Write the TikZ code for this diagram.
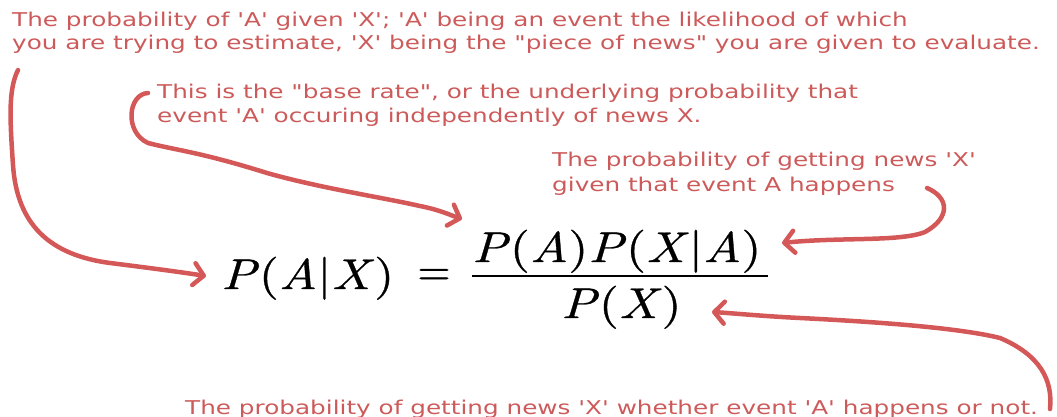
\documentclass[tikz,border=0pt]{standalone}
\usepackage{fontspec}
\usepackage{graphicx}
\setsansfont{DejaVu Sans}
\newfontfamily\fmath{lmroman10-regular.otf}[ItalicFont=lmroman10-italic.otf, FakeBold=0.6]
\usetikzlibrary{arrows.meta}
\definecolor{annot}{RGB}{205,90,90}
\definecolor{arrowred}{RGB}{212,88,88}
\newcommand\aps{\textquotesingle}
\newcommand\dqu{\textquotedbl}
\newcommand\wide[1]{\scalebox{1.3}[1]{#1}}
\newcommand\mwide[1]{\scalebox{1.2}[1]{#1}}
\newcommand\vr[1]{\textit{#1}}
\begin{document}
\begin{tikzpicture}[x=1pt,y=-1pt,
  note/.style={anchor=base west, inner sep=0pt, text=annot, font=\sffamily\fontsize{19}{23}\selectfont},
  mathpart/.style={anchor=base west, inner sep=0pt, font=\fmath\fontsize{43}{50}\selectfont},
  pointer/.style={draw=arrowred, line width=4.5pt, line cap=round, line join=round, -{Straight Barb[length=10pt,width=22pt,round]}}
]
\useasboundingbox (0,0) rectangle (1057,417);
% annotations
\node[note] (n1a) at (12,27) {\wide{The probability of \aps A\aps{} given \aps X\aps; \aps A\aps{} being an event the likelihood of which}};
\node[note] (n1b) at (12,50) {\wide{you are trying to estimate, \aps X\aps{} being the \dqu piece of news\dqu{} you are given to evaluate.}};
\node[note] (n2a) at (157,99) {\wide{This is the \dqu base rate\dqu, or the underlying probability that}};
\node[note] (n2b) at (157,123) {\wide{event \aps A\aps{} occuring independently of news X.}};
\node[note] (n3a) at (552,166) {\wide{The probability of getting news \aps X\aps}};
\node[note] (n3b) at (552,191) {\wide{given that event A happens}};
\node[note] (n4) at (185,414) {\wide{The probability of getting news \aps X\aps{} whether event \aps A\aps{} happens or not.}};
% formula
\node[mathpart] (lhs) at (221,289) {\mwide{\vr{P}(\vr{A}|\vr{X})}};
\node[mathpart, anchor=center] (eq) at (434,277) {=};
\node[mathpart] (num) at (472,262) {\mwide{\vr{P}(\vr{A})\vr{P}(\vr{X}|\vr{A})}};
\node[mathpart] (den) at (561,318) {\mwide{\vr{P}(\vr{X})}};
\coordinate (barl) at (472,276);
\coordinate (barr) at (768,276);
\draw[line width=2.8pt] (barl) -- (barr);
% arrow coordinates
\coordinate (s1) at (18,70);
\coordinate (t1) at (206,276);
\coordinate (s2) at (148,93);
\coordinate (t2) at (462,219);
\coordinate (s3) at (927,188);
\coordinate (t3) at (782,243);
\coordinate (s4) at (1050,409);
\coordinate (t4) at (712,312);
\draw[pointer] (s1) .. controls (8,90) and (10,120) .. (13,165) .. controls (17,225) and (50,255) .. (110,263) .. controls (150,268) and (180,272) .. (t1);
\draw[pointer] (s2) .. controls (128,94) and (124,132) .. (148,143) .. controls (175,150) and (200,152) .. (267,173) .. controls (320,188) and (380,197) .. (420,206) .. controls (440,210) and (450,215) .. (t2);
\draw[pointer] (s3) .. controls (950,198) and (950,218) .. (925,232) .. controls (900,242) and (840,237) .. (t3);
\draw[pointer] (s4) .. controls (1053,380) and (1040,355) .. (1000,338) .. controls (960,328) and (880,322) .. (800,318) .. controls (760,316) and (730,313) .. (t4);
\end{tikzpicture}
\end{document}
